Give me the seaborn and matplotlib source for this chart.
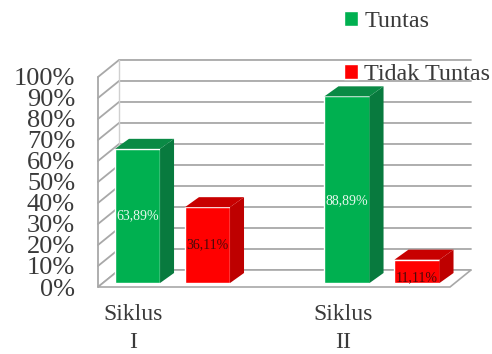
import matplotlib
matplotlib.use("Agg")
import matplotlib.pyplot as plt
import seaborn as sns
import pandas as pd
from matplotlib.patches import Polygon
from matplotlib.transforms import ScaledTranslation

cycles = ["Siklus\nI", "Siklus\nII"]
series_names = ["Tuntas", "Tidak Tuntas"]
tuntas = [63.89, 88.89]
tidak_tuntas = [36.11, 11.11]
value_labels = [["63,89%", "88,89%"], ["36,11%", "11,11%"]]
tick_values = list(range(0, 101, 10))
tick_labels = [f"{v}%" for v in tick_values]

sns.set_theme(style="white")
plt.rcParams["font.family"] = ["Liberation Serif", "DejaVu Sans"]

W, H = 492, 354
df = pd.DataFrame({
    "cycle": cycles * 2,
    "series": [series_names[0]] * 2 + [series_names[1]] * 2,
    "value": tuntas + tidak_tuntas,
})

fig = plt.figure(figsize=(W / 100, H / 100), dpi=100, facecolor="white")
ax = fig.add_axes([98 / W, (H - 287) / H, (450 - 98) / W, (287 - 73) / H])
ax.patch.set_visible(False)

palette = {"Tuntas": "#00B050", "Tidak Tuntas": "#FF0000"}
sides = ["#087A3E", "#BE0000"]
tops = ["#0A8A45", "#C80000"]
sns.barplot(data=df, x="cycle", y="value", hue="series", palette=palette, saturation=1,
            width=0.668, gap=0.356, ax=ax, zorder=3, legend=True)

ax.set_xlim((98 - 172.5) / 209.5, (450 - 172.5) / 209.5)
ax.set_ylim(-1.9, 100)

# depth of the fake 3-D box, in data units
px_x, px_y = 1 / 209.5, 1 / 2.1
box_dx, box_dy = 21 * px_x, 17 * px_y
x0, x1 = ax.get_xlim()
grid = "#A8A8A8"
for v in tick_values:
    yf = v - 1.9
    ax.plot([x0, x0 + box_dx, x1 + box_dx], [yf, yf + box_dy, yf + box_dy],
            color=grid, lw=1.3, zorder=1, clip_on=False, solid_joinstyle="miter")
ax.plot([x0, x0], [-1.9, 98.1], color=grid, lw=1.3, zorder=1, clip_on=False)
ax.plot([x0 + box_dx] * 2, [-1.9 + box_dy, 98.1 + box_dy], color="#D0D0D0", lw=1, zorder=1, clip_on=False)
ax.add_patch(Polygon([[x0, -1.9], [x1, -1.9], [x1 + box_dx, -1.9 + box_dy], [x0 + box_dx, -1.9 + box_dy]],
                     closed=True, facecolor="white", edgecolor="#A8A8A8", lw=1.2, zorder=2, clip_on=False))

# side and top faces of each bar, from the bars that seaborn drew
dx, dy = 14 * px_x, 10 * px_y
for i, container in enumerate(ax.containers):
    for j, bar in enumerate(container):
        l, w, h = bar.get_x(), bar.get_width(), bar.get_height()
        r = l + w
        ax.add_patch(Polygon([[r, 0], [r + dx, dy], [r + dx, h + dy], [r, h]],
                             closed=True, facecolor=sides[i], edgecolor="none", zorder=3, clip_on=False))
        ax.add_patch(Polygon([[l, h], [l + dx, h + dy], [r + dx, h + dy], [r, h]],
                             closed=True, facecolor=tops[i], edgecolor="none", zorder=3, clip_on=False))
        label_y = h * (0.5 if h < 70 else 0.44)
        if h < 20:
            label_y = h * 0.22
        ax.text(l + w / 2, label_y, value_labels[i][j], ha="center", va="center", fontsize=10,
                color="#E8F8EE" if i == 0 else "#4A0A0A", zorder=5)

sns.despine(ax=ax, left=True, bottom=True)
ax.set_xlabel("")
ax.set_ylabel("")
ax.set_yticks([v - 1.9 for v in tick_values], tick_labels)
ax.tick_params(axis="y", length=0, pad=16.5, labelsize=19, labelcolor="#3A3A3A")
ax.tick_params(axis="x", length=0, pad=12.5, labelsize=17, labelcolor="#3A3A3A")
shift = ScaledTranslation(-39 / 100, 0, fig.dpi_scale_trans)
for lab in ax.get_xticklabels():
    lab.set_transform(lab.get_transform() + shift)
    lab.set_linespacing(1.42)

handles, labels = ax.get_legend_handles_labels()
ax.legend(handles, labels, loc="upper left", bbox_to_anchor=(339 / W, (H - 6) / H),
          bbox_transform=fig.transFigure, frameon=False, fontsize=17.4, labelcolor="#3A3A3A",
          handlelength=0.6, handleheight=0.6, handletextpad=0.25, labelspacing=1.32,
          borderpad=0.2, borderaxespad=0)

fig.savefig("out.png", dpi=100, facecolor="white")
